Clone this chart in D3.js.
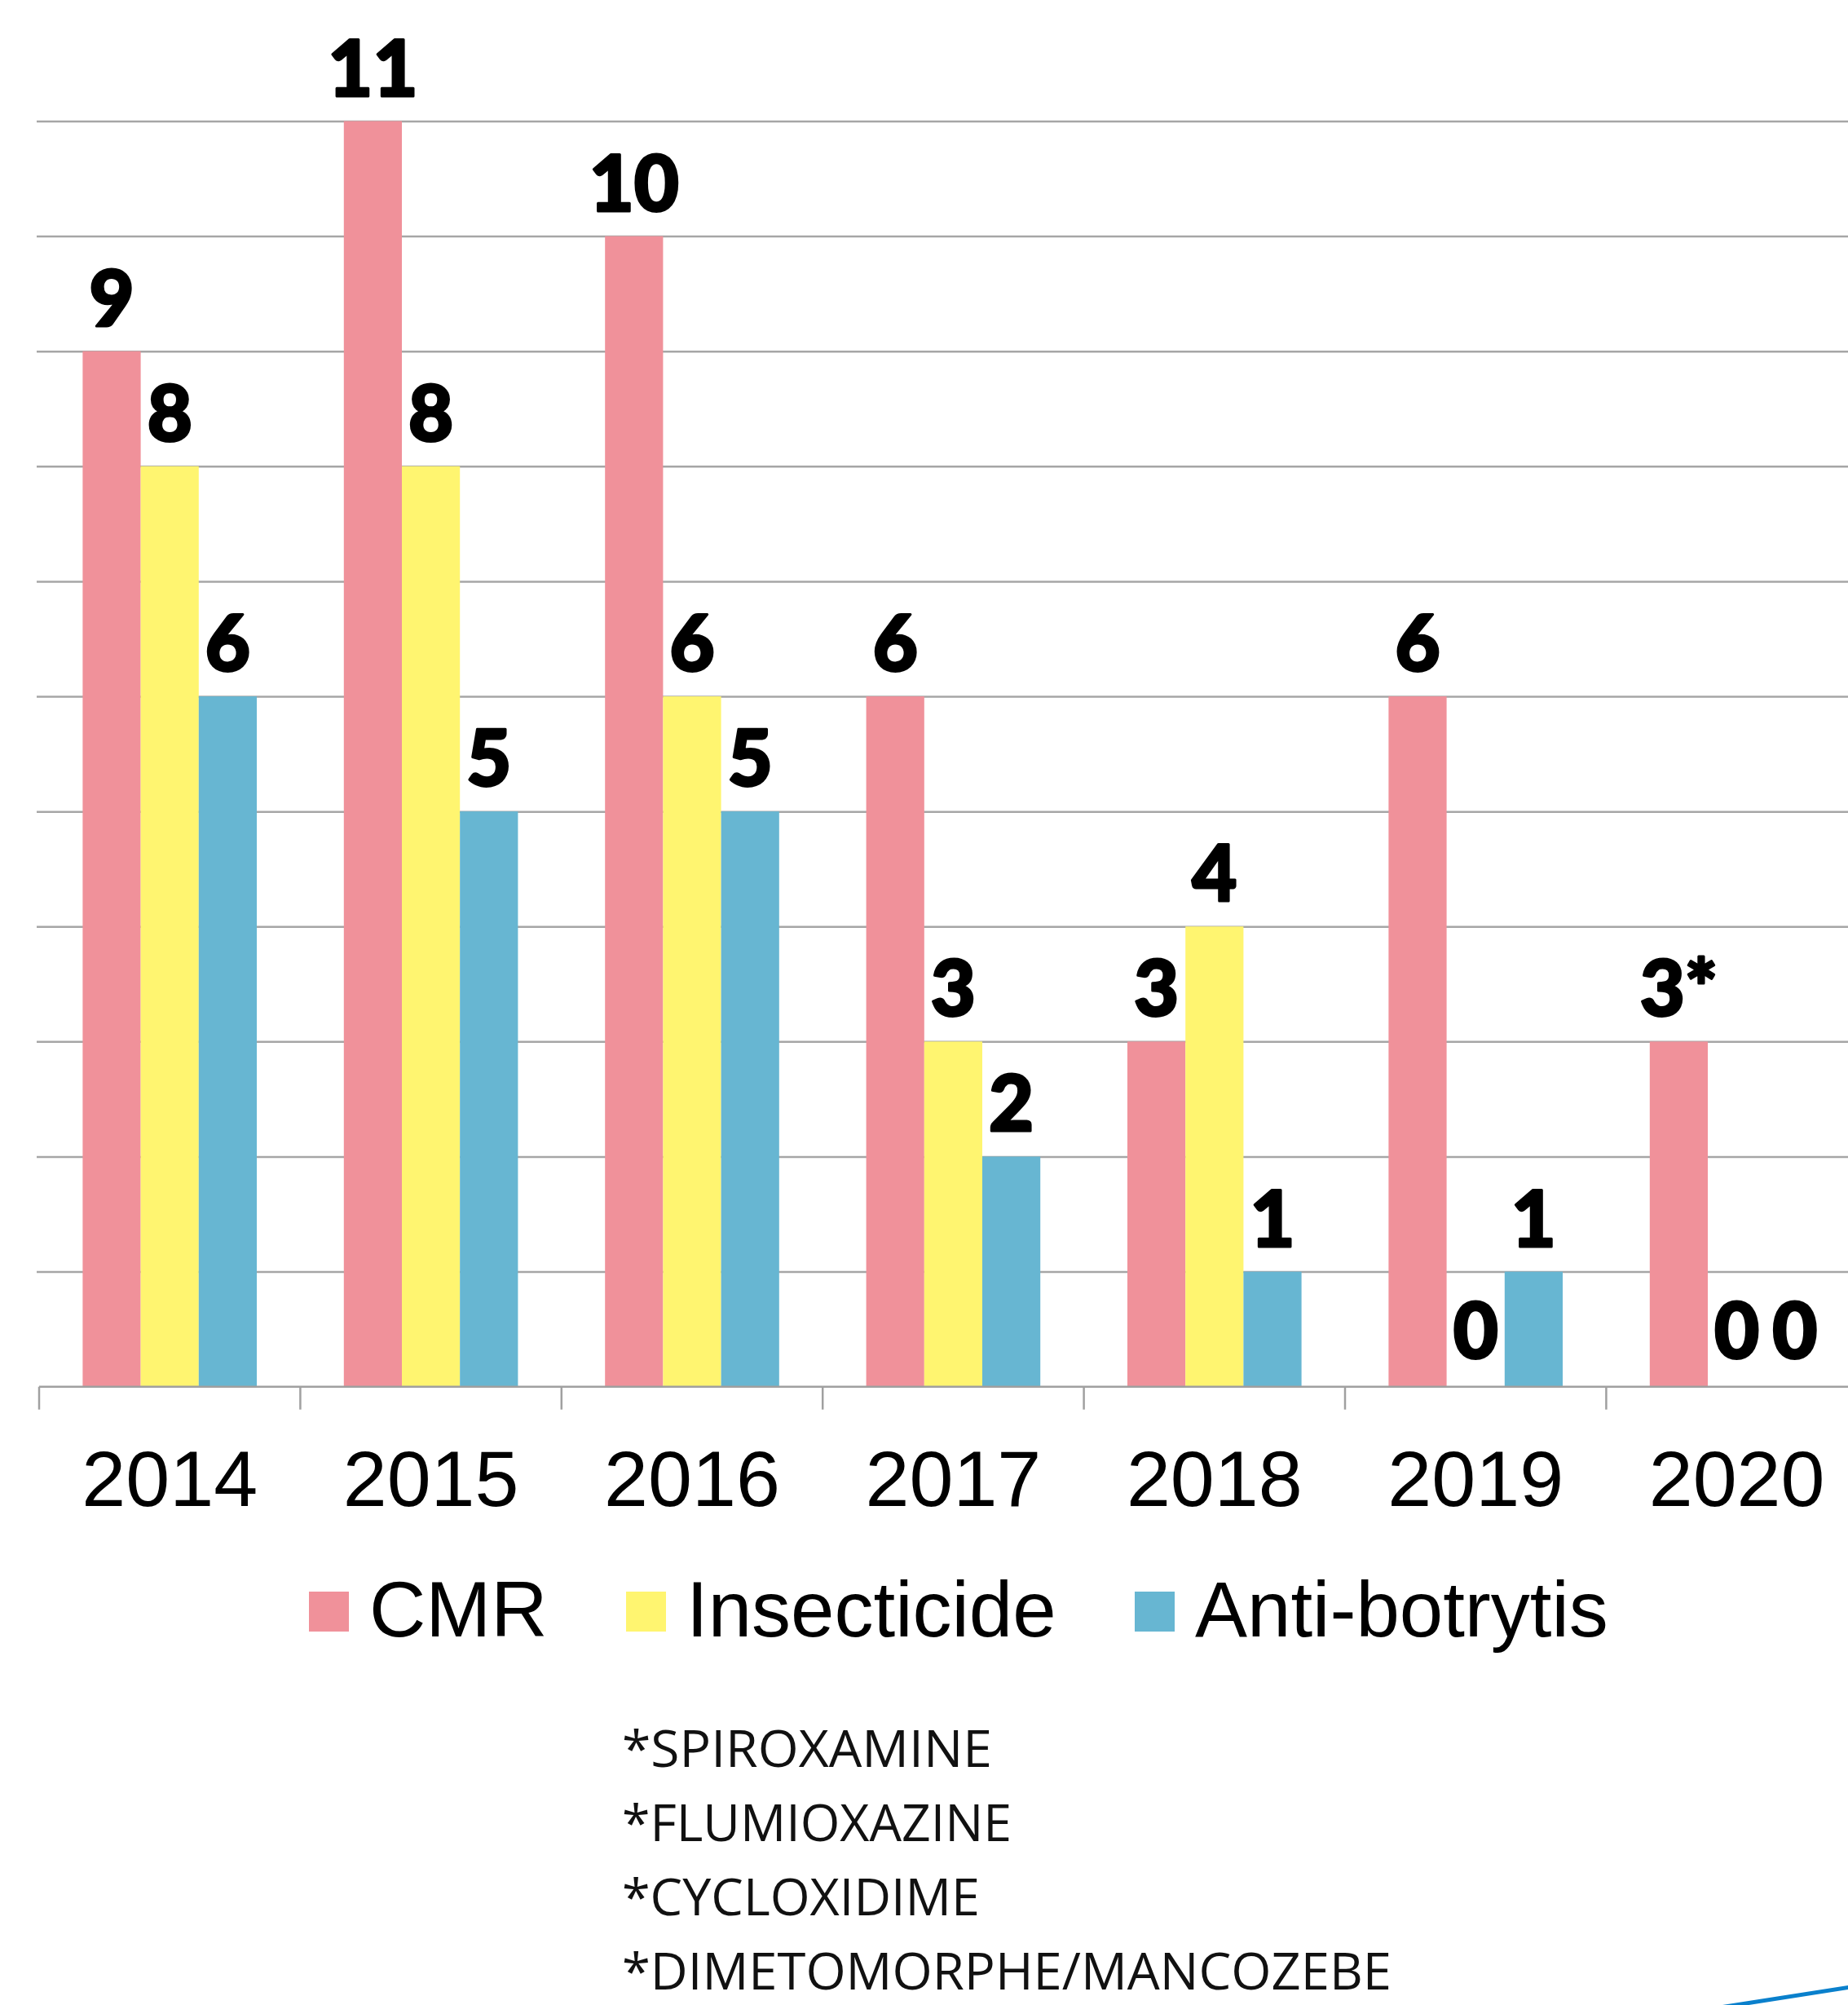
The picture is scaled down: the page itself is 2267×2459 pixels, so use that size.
<!DOCTYPE html>
<html>
<head>
<meta charset="utf-8">
<script src="https://cdn.jsdelivr.net/npm/d3@7"></script>
<style>
  body { margin: 0; background: #fff; }
  svg { display: block; }
</style>
</head>
<body>
<div id="chart"></div>
<script>
const years = ['2014', '2015', '2016', '2017', '2018', '2019', '2020'];
const series = ['CMR', 'Insecticide', 'Anti-botrytis'];
const cmr = [9, 11, 10, 6, 3, 6, 3];
const insecticide = [8, 8, 6, 3, 4, 0, 0];
const antiBotrytis = [6, 5, 5, 2, 1, 1, 0];
const cmrNotes = ['', '', '', '', '', '', '*'];
const footnotes = ['*SPIROXAMINE', '*FLUMIOXAZINE', '*CYCLOXIDIME', '*DIMETOMORPHE/MANCOZEBE'];
const footnoteWidths = [454, 478, 439, 944];
const colors = ['#f0919a', '#fff570', '#67b6d2'];

const width = 2267;
const height = 2459;
const plot = { left: 48, top: 148.5, bottom: 1700.7, band: 320.4 };
// legend item left edges (layout, not data)
const legendX = [379, 768, 1392];

const rows = years.map((year, i) => ({
  year,
  values: [
    { key: 'CMR', value: cmr[i], label: cmr[i] + cmrNotes[i] },
    { key: 'Insecticide', value: insecticide[i], label: String(insecticide[i]) },
    { key: 'Anti-botrytis', value: antiBotrytis[i], label: String(antiBotrytis[i]) },
  ],
}));

const svg = d3.select('#chart')
  .append('svg')
  .attr('width', width)
  .attr('height', height);

svg.append('rect').attr('width', width).attr('height', height).attr('fill', '#fff');

const x0 = d3.scaleBand()
  .domain(years)
  .range([plot.left, plot.left + plot.band * years.length]);

const x1 = d3.scaleBand()
  .domain(series)
  .range([x0.bandwidth() / 6, x0.bandwidth() * 5 / 6]);

const y = d3.scaleLinear().domain([0, 11]).range([plot.bottom, plot.top]);

const color = d3.scaleOrdinal().domain(series).range(colors);

// gridlines
svg.append('g')
  .attr('class', 'gridlines')
  .attr('transform', `translate(${plot.left - 3}, 0)`)
  .call(d3.axisLeft(y).tickValues(d3.range(1, 12)).tickFormat('').tickSize(-(width - plot.left + 10)))
  .call((g) => g.select('.domain').remove())
  .call((g) => g.selectAll('line').attr('stroke', '#a6a6a6').attr('stroke-width', 2.5));

// bars
const groups = svg.append('g')
  .selectAll('g')
  .data(rows)
  .join('g')
  .attr('transform', (d) => `translate(${x0(d.year)}, 0)`);

groups.selectAll('rect')
  .data((d) => d.values)
  .join('rect')
  .attr('x', (d) => x1(d.key))
  .attr('y', (d) => y(d.value))
  .attr('width', x1.bandwidth())
  .attr('height', (d) => y(0) - y(d.value))
  .attr('fill', (d) => color(d.key));

groups.selectAll('text')
  .data((d) => d.values)
  .join('text')
  .attr('x', (d) => x1(d.key) + x1.bandwidth() / 2)
  .attr('y', (d) => y(d.value) - (d.value === 0 ? 35 : 31))
  .attr('text-anchor', 'middle')
  .attr('font-family', '"Arial Black", Lato, "DejaVu Sans", sans-serif')
  .attr('font-weight', 900)
  .attr('font-size', 95)
  .attr('fill', '#000')
  .attr('stroke', '#000')
  .attr('stroke-width', 3)
  .attr('stroke-linejoin', 'round')
  .text((d) => d.label);

// x axis
const xAxis = svg.append('g')
  .attr('transform', `translate(0, ${plot.bottom})`)
  .call(d3.axisBottom(x0).tickSize(0).tickPadding(0))
  .call((g) => g.select('.domain').remove());

xAxis.selectAll('text')
  .attr('y', 146)
  .attr('dy', null)
  .attr('font-family', '"Liberation Sans", Arial, sans-serif')
  .attr('font-size', 97)
  .attr('fill', '#000');

svg.append('line')
  .attr('x1', plot.left)
  .attr('x2', width)
  .attr('y1', plot.bottom)
  .attr('y2', plot.bottom)
  .attr('stroke', '#a0a0a0')
  .attr('stroke-width', 2.5);

svg.append('g')
  .selectAll('line')
  .data(years)
  .join('line')
  .attr('x1', (d) => x0(d))
  .attr('x2', (d) => x0(d))
  .attr('y1', plot.bottom)
  .attr('y2', plot.bottom + 28)
  .attr('stroke', '#a0a0a0')
  .attr('stroke-width', 2.5);

// legend
const items = svg.append('g')
  .attr('transform', 'translate(0, 2007)')
  .selectAll('g')
  .data(series)
  .join('g')
  .attr('transform', (d, i) => `translate(${legendX[i]}, 0)`);

items.append('rect')
  .attr('y', -55)
  .attr('width', 49)
  .attr('height', 49)
  .attr('fill', (d) => color(d));

items.append('text')
  .attr('x', 74)
  .attr('font-family', '"Liberation Sans", Arial, sans-serif')
  .attr('font-size', 96)
  .attr('fill', '#000')
  .text((d) => d);

// footnotes
svg.append('g')
  .selectAll('text')
  .data(footnotes)
  .join('text')
  .attr('x', 763)
  .attr('y', (d, i) => 2167 + i * 91)
  .attr('font-family', '"Open Sans", "Noto Sans", sans-serif')
  .attr('font-size', 62)
  .attr('fill', '#111')
  .attr('textLength', (d, i) => footnoteWidths[i])
  .attr('lengthAdjust', 'spacingAndGlyphs')
  .text((d) => d);

// decorative slide line
svg.append('line')
  .attr('x1', 2110)
  .attr('y1', 2462)
  .attr('x2', 2270)
  .attr('y2', 2437)
  .attr('stroke', '#0a80cc')
  .attr('stroke-width', 5);
</script>
</body>
</html>
